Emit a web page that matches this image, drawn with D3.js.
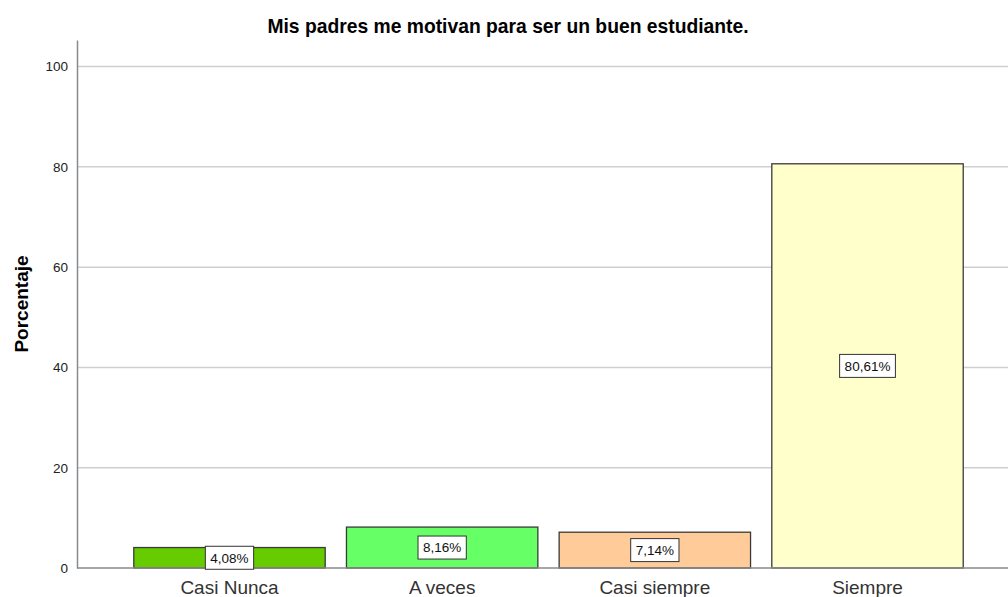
<!DOCTYPE html>
<html>
<head>
<meta charset="utf-8">
<script src="https://cdn.jsdelivr.net/npm/d3@7"></script>
<style>
  body { margin: 0; background: #fff; }
  svg { display: block; font-family: Arial, "Liberation Sans", sans-serif; }
</style>
</head>
<body>
<svg id="chart" width="1008" height="597"></svg>
<script>
// DATA
const categories = ["Casi Nunca", "A veces", "Casi siempre", "Siempre"];
const percents = [4.08, 8.16, 7.14, 80.61];
const barColors = ["#66cc00", "#66ff66", "#ffcc99", "#ffffcc"];
const yTicks = [0, 20, 40, 60, 80, 100];

const title = "Mis padres me motivan para ser un buen estudiante.";

// SETUP
const plot = { left: 77, right: 1020, top: 40, bottom: 568 };
const svg = d3.select("#chart");

// SCALES
const x = d3.scaleBand()
    .domain(categories)
    .range([plot.left, plot.right])
    .paddingInner(0.1)
    .paddingOuter(0.267);

const y = d3.scaleLinear()
    .domain([0, 105.3])
    .range([plot.bottom, plot.top]);

// GRID LINES
svg.append("g")
    .selectAll("line")
    .data(yTicks.filter(d => d > 0))
    .join("line")
    .attr("x1", plot.left)
    .attr("x2", 1008)
    .attr("y1", d => y(d))
    .attr("y2", d => y(d))
    .attr("stroke", "#cfcfcf")
    .attr("stroke-width", 1.5);

// BARS
const data = categories.map((c, i) => ({ cat: c, value: percents[i], color: barColors[i] }));

svg.append("g")
    .selectAll("rect")
    .data(data)
    .join("rect")
    .attr("x", d => x(d.cat))
    .attr("y", d => y(d.value))
    .attr("width", x.bandwidth())
    .attr("height", d => y(0) - y(d.value))
    .attr("fill", d => d.color)
    .attr("stroke", "#3a3a3a")
    .attr("stroke-width", 1.3);

// AXES
const yAxis = svg.append("g")
    .attr("transform", `translate(${plot.left},0)`)
    .call(d3.axisLeft(y).tickValues(yTicks).tickSize(0).tickPadding(9));
yAxis.select(".domain").attr("stroke", "#8a8a8a").attr("stroke-width", 1.5);
yAxis.selectAll("text").attr("font-size", 13.5).attr("fill", "#222")
    .attr("font-family", "Arial, 'Liberation Sans', sans-serif");

const xAxis = svg.append("g")
    .attr("transform", `translate(0,${plot.bottom})`)
    .call(d3.axisBottom(x).tickSize(0).tickPadding(13));
xAxis.select(".domain").attr("stroke", "#8a8a8a").attr("stroke-width", 1.5)
    .attr("d", `M${plot.left},0H1008`);
xAxis.selectAll("text").attr("font-size", 19).attr("fill", "#333")
    .attr("font-family", "Arial, 'Liberation Sans', sans-serif");

// VALUE LABELS
const labels = svg.append("g")
    .selectAll("g")
    .data(data)
    .join("g")
    .attr("transform", d => `translate(${x(d.cat) + x.bandwidth() / 2},${(y(0) + y(d.value)) / 2})`);

labels.append("text")
    .attr("text-anchor", "middle")
    .attr("dy", "0.36em")
    .attr("font-size", 13.5)
    .attr("fill", "#111")
    .text(d => d.value.toFixed(2).replace(".", ",") + "%");

labels.each(function() {
    const g = d3.select(this);
    const bb = g.select("text").node().getBBox();
    g.insert("rect", "text")
        .attr("x", bb.x - 5)
        .attr("y", -11.5)
        .attr("width", bb.width + 10)
        .attr("height", 23)
        .attr("fill", "#fff")
        .attr("stroke", "#333")
        .attr("stroke-width", 1);
});

// TITLE AND AXIS LABEL
svg.append("text")
    .attr("x", 508)
    .attr("y", 33)
    .attr("text-anchor", "middle")
    .attr("font-size", 19.3)
    .attr("font-weight", "bold")
    .attr("fill", "#000")
    .text(title);

svg.append("text")
    .attr("transform", "rotate(-90)")
    .attr("x", -304)
    .attr("y", 28)
    .attr("text-anchor", "middle")
    .attr("font-size", 19)
    .attr("font-weight", "bold")
    .attr("fill", "#000")
    .text("Porcentaje");
</script>
</body>
</html>
